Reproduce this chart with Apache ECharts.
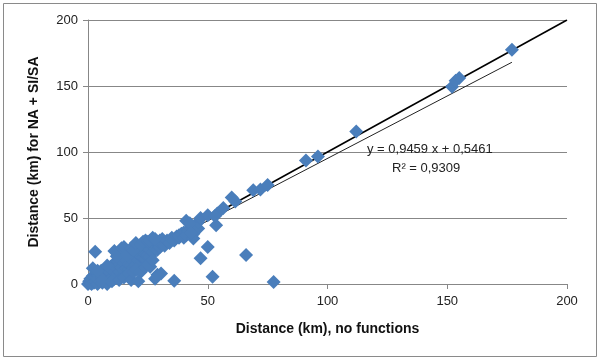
<!DOCTYPE html>
<html>
<head>
<meta charset="utf-8">
<script src="https://cdn.jsdelivr.net/npm/echarts@6/dist/echarts.min.js"></script>
<style>html,body{margin:0;padding:0;background:#fff;}#c{width:600px;height:361px;}</style>
</head>
<body>
<div id="c"></div>
<script>
// Data: [Distance no functions, Distance NA + SI/SA], km
const clusterPoints = [
  [0,0],[0.5,2],[1,1],[1,4],[1.5,0],[2,3],[2,6],[2.5,1],[3,2],[3,5],[3.5,8],[4,0],[4,4],[4.5,7],
  [5,2],[5,6],[5.5,10],[6,1],[6,5],[6.5,9],[7,3],[7,8],[7.5,12],[8,0],[8,6],[8.5,10],[9,3],[9,9],
  [9.5,13],[10,5],[10,11],[10.5,15],[11,4],[11,9],[11.5,14],[12,7],[12,12],[12.5,17],[13,9],[13,14],
  [13.5,19],[14,8],[14,13],[14.5,18],[15,10],[15,16],[15.5,21],[16,12],[16,18],[16.5,23],[17,11],
  [17,15],[17.5,20],[18,14],[18,19],[18.5,24],[19,13],[19,17],[19.5,22],[20,15],[20,20],[20.5,25],
  [21,18],[21,23],[21.5,27],[22,16],[22,21],[22.5,26],[23,20],[23,24],[23.5,29],[24,19],[24,23],
  [24.5,28],[25,22],[25,27],[25.5,31],[26,21],[26,26],[26.5,30],[27,24],[27,29],[28,27],[28,32],
  [29,26],[29,31],[30,28],[30,33],[31,30],[31,34],[32,29],[33,32],[33,33],[34,31],[35,35],[35,34],
  [36,33],[37,36],[38,35],[38,37],[39,38],[40,35],[40,39],[41,37],[42,41],[42,40],[43,43],[44,38],
  [44,42],[45,45],[46,42],[46,47]
];
const upperPoints = [
  [3,24.5],[11,25],[12,21],[14,27],[15,28],[16,22],[18,27],[19,26],[20,31],[22,30],[23,32],
  [24,33],[25,32],[26,33],[27,35],[28,34]
];
const lowerPoints = [
  [2,12],[4,10],[6,3],[8,14],[10,2],[13,3],[15,5],[17,8],[18,3],[19,9],[20,11],[22,9],
  [24,13],[25,15],[26,13],[27,18]
];
const outlierPoints = [
  [41,48],[42.5,46],[47,50],[50,52],[54,53.5],[56.5,57.5],[60,65.5],[61.5,62.5],[53.5,44.5],
  [53,51.5],[44,34.5],[43,38],[50,28],[47,19.5],[66,22],[52,5.5],[77.5,1.5],[36,2.5],[21,2],
  [29,7],[30.5,8],[28,4],
  [69,71],[72,71.5],[75,75],[91,93.5],[96,96.5],[112,115.5],[152,149.5],[153.5,154],[155,156],
  [177,177.5]
];
const identityLine = [[0, 0], [200, 200]];
const trendSlope = 0.9459;
const trendIntercept = 0.5461;
const trendXRange = [0, 177];
const axisTicks = [0, 50, 100, 150, 200];
const equationText = 'y = 0,9459 x + 0,5461';
const r2Text = 'R² = 0,9309';
const xTitle = 'Distance (km), no functions';
const yTitle = 'Distance (km) for NA + SI/SA';

const scatterData = clusterPoints.concat(upperPoints, lowerPoints, outlierPoints);
const trendData = trendXRange.map(x => [x, trendSlope * x + trendIntercept]);

const FONT = 'Liberation Sans';
const chart = echarts.init(document.getElementById('c'), null, {renderer: 'canvas'});
const axisCommon = {
  min: axisTicks[0], max: axisTicks[axisTicks.length - 1], interval: 50,
  axisLine: {show: true, lineStyle: {color: '#878787', width: 1}},
  axisTick: {show: true, length: 5, lineStyle: {color: '#878787'}},
  axisLabel: {color: '#222', fontFamily: FONT, fontSize: 13},
  nameLocation: 'middle',
  nameTextStyle: {color: '#111', fontFamily: FONT, fontSize: 14, fontWeight: 'bold'}
};
chart.setOption({
  animation: false,
  backgroundColor: '#fff',
  grid: {left: 88, right: 33, top: 20, bottom: 77, containLabel: false},
  xAxis: Object.assign({}, axisCommon, {
    type: 'value', name: xTitle, nameGap: 38,
    splitLine: {show: false},
    axisLabel: Object.assign({}, axisCommon.axisLabel, {margin: 11})
  }),
  yAxis: Object.assign({}, axisCommon, {
    type: 'value', name: yTitle, nameGap: 47,
    splitLine: {show: true, lineStyle: {color: '#878787', width: 1}},
    axisLabel: Object.assign({}, axisCommon.axisLabel, {margin: 10})
  }),
  series: [
    {type: 'line', data: identityLine, symbol: 'none', z: 2,
     lineStyle: {color: '#000', width: 1.6}},
    {type: 'line', data: trendData, symbol: 'none', z: 2,
     lineStyle: {color: '#222', width: 1}},
    {type: 'scatter', data: scatterData, symbol: 'diamond', symbolSize: 14, z: 3,
     itemStyle: {color: '#4a7ebb', opacity: 1}}
  ],
  graphic: [
    {type: 'rect', shape: {x: 3.5, y: 3.5, width: 593, height: 353},
     style: {fill: 'none', stroke: '#8a8a8a', lineWidth: 1}, z: 100},
    {type: 'text', left: 367, top: 143, z: 100,
     style: {text: equationText, fill: '#222', font: '13px ' + FONT}},
    {type: 'text', left: 392, top: 162, z: 100,
     style: {text: r2Text, fill: '#222', font: '13px ' + FONT}}
  ]
});
</script>
</body>
</html>
